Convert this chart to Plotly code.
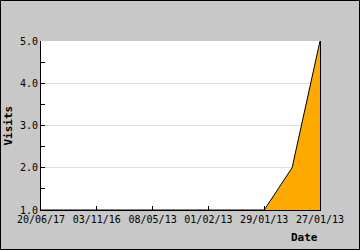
import plotly.graph_objects as go

# data
point_index = [0, 1, 2, 3, 4, 5, 6, 7, 8, 9, 10]
visits = [1, 1, 1, 1, 1, 1, 1, 1, 1, 2, 5]
tick_positions = [0, 2, 4, 6, 8, 10]
tick_labels = ["20/06/17", "03/11/16", "08/05/13", "01/02/13", "29/01/13", "27/01/13"]

FONT = "DejaVu Sans Mono"
PW, PH = 279, 169  # plot area size in px

def px_x(p):
    return (p - 41) / PW

def px_y(p):
    return (210 - p) / PH

fig = go.Figure()
fig.add_trace(go.Scatter(
    x=point_index, y=visits, mode="lines",
    line=dict(color="black", width=1),
    fill="tozeroy", fillcolor="#ffaa00",
    hoverinfo="skip",
))

fig.update_layout(
    width=360, height=250,
    margin=dict(l=41, r=40, t=41, b=40),
    paper_bgcolor="#c8c8c8",
    plot_bgcolor="white",
    showlegend=False,
    font=dict(family=FONT, size=10, color="black"),
    xaxis=dict(
        range=[0, 10], tickmode="array", tickvals=tick_positions, ticktext=tick_labels,
        ticks="inside", ticklen=4, tickcolor="black", showgrid=False, zeroline=False,
        showline=True, linecolor="black", linewidth=1,
        tickfont=dict(family=FONT, size=10), fixedrange=True,
    ),
    yaxis=dict(
        range=[1, 5], dtick=1, tick0=1, tickformat=".1f",
        ticks="inside", ticklen=4, tickcolor="black",
        showgrid=True, gridcolor="#dddddd", gridwidth=1, zeroline=False,
        showline=True, linecolor="black", linewidth=1, mirror=True,
        minor=dict(dtick=0.5, ticks="inside", ticklen=4, tickcolor="black", showgrid=False),
        tickfont=dict(family=FONT, size=10), fixedrange=True,
    ),
    annotations=[
        dict(text="<b>Date</b>", xref="paper", yref="paper", x=1, y=px_y(237),
             xanchor="right", yanchor="middle", showarrow=False,
             font=dict(family=FONT, size=11)),
        dict(text="<b>Visits</b>", xref="paper", yref="paper", x=px_x(8), y=0.5,
             xanchor="center", yanchor="middle", textangle=-90, showarrow=False,
             font=dict(family=FONT, size=11)),
    ],
)

# outer black frame of the image
fig.add_shape(type="rect", xref="paper", yref="paper",
              x0=px_x(0.5), x1=px_x(359.5), y0=px_y(249.5), y1=px_y(0.5),
              line=dict(color="black", width=1), layer="below")

fig.write_html("out.html")
